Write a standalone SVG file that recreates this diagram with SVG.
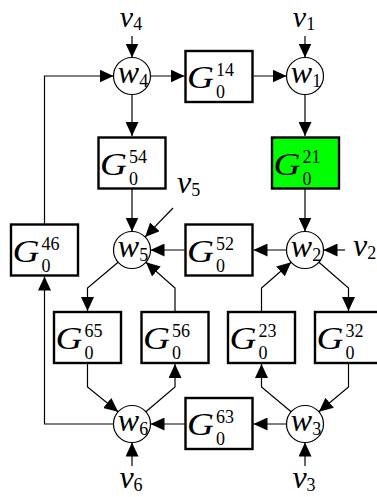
<svg xmlns="http://www.w3.org/2000/svg" width="377" height="497" viewBox="0 0 377 497">
<style>
.box{fill:#fff;stroke:#000;stroke-width:2.4}
.green{fill:#00ff00}
.circ{fill:#fff;stroke:#000;stroke-width:1.2}
.ln{fill:none;stroke:#000;stroke-width:1.2;marker-end:url(#ah)}
text{font-family:'Liberation Serif',serif;fill:#000}
.m{font-style:italic;font-size:32px}
.t{font-style:italic;font-size:30px}
.s{font-style:normal;font-size:18px}
</style>
<defs>
<marker id="ah" markerWidth="14" markerHeight="13" refX="14" refY="6.5" orient="auto" markerUnits="userSpaceOnUse">
<path d="M0,0 L14,6.5 L0,13 Z" fill="#000"/>
</marker>
</defs>
<g id="connectors">
<path class="ln" d="M132,36 L132,57.5"/>
<path class="ln" d="M305,36 L305,57.5"/>
<path class="ln" d="M150.5,76 L184.5,76"/>
<path class="ln" d="M253.5,76 L286.5,76"/>
<path class="ln" d="M305,94.5 L305,136"/>
<path class="ln" d="M132,94.5 L132,136"/>
<path class="ln" d="M132,189 L132,231.5"/>
<path class="ln" d="M305,189 L305,231.5"/>
<path class="ln" d="M173,208 L145.1,236.9"/>
<path class="ln" d="M184.5,250 L150.5,250"/>
<path class="ln" d="M286.5,250 L253.5,250"/>
<path class="ln" d="M345,250 L323.5,250"/>
<path class="ln" d="M318.9,262.2 L348.5,288 L348.5,311"/>
<path class="ln" d="M261.5,311 L261.5,288 L291.1,262.2"/>
<path class="ln" d="M118.1,262.2 L87.5,288 L87.5,311"/>
<path class="ln" d="M175,311 L175,288 L145.9,262.2"/>
<path class="ln" d="M87.5,364 L87.5,387 L118.1,411.8"/>
<path class="ln" d="M145.9,411.8 L175,387 L175,364"/>
<path class="ln" d="M291.1,411.8 L261.5,387 L261.5,364"/>
<path class="ln" d="M348.5,364 L348.5,387 L318.9,411.8"/>
<path class="ln" d="M184.5,424 L150.5,424"/>
<path class="ln" d="M286.5,424 L253.5,424"/>
<path class="ln" d="M305,466 L305,442.5"/>
<path class="ln" d="M132,466 L132,442.5"/>
<path class="ln" d="M113.5,424 L44.5,424 L44.5,276.5"/>
<path class="ln" d="M44.5,223.5 L44.5,76 L113.5,76"/>
</g>
<g id="v4"><text class="t" x="131" y="27" text-anchor="middle">v<tspan class="s" dy="3">4</tspan></text></g>
<g id="v1"><text class="t" x="304" y="27" text-anchor="middle">v<tspan class="s" dy="3">1</tspan></text></g>
<g id="v5"><text class="m" x="177" y="193">v<tspan class="s" dy="3">5</tspan></text></g>
<g id="v2"><text class="m" x="353" y="256">v<tspan class="s" dy="3">2</tspan></text></g>
<g id="v6"><text class="m" x="131" y="488" text-anchor="middle">v<tspan class="s" dy="3">6</tspan></text></g>
<g id="v3"><text class="m" x="304" y="488" text-anchor="middle">v<tspan class="s" dy="3">3</tspan></text></g>
<g id="w4"><circle class="circ" cx="132" cy="76" r="18.5"/><text class="m" x="133" y="83" text-anchor="middle">w<tspan class="s" dy="4">4</tspan></text></g>
<g id="w1"><circle class="circ" cx="305" cy="76" r="18.5"/><text class="m" x="306" y="83" text-anchor="middle">w<tspan class="s" dy="4">1</tspan></text></g>
<g id="w5"><circle class="circ" cx="132" cy="250" r="18.5"/><text class="m" x="133" y="257" text-anchor="middle">w<tspan class="s" dy="4">5</tspan></text></g>
<g id="w2"><circle class="circ" cx="305" cy="250" r="18.5"/><text class="m" x="306" y="257" text-anchor="middle">w<tspan class="s" dy="4">2</tspan></text></g>
<g id="w6"><circle class="circ" cx="132" cy="424" r="18.5"/><text class="m" x="133" y="431" text-anchor="middle">w<tspan class="s" dy="4">6</tspan></text></g>
<g id="w3"><circle class="circ" cx="305" cy="424" r="18.5"/><text class="m" x="306" y="431" text-anchor="middle">w<tspan class="s" dy="4">3</tspan></text></g>
<g id="G14"><rect class="box" x="185.5" y="51" width="67" height="51"/><text class="m" x="187" y="88" textLength="27" lengthAdjust="spacingAndGlyphs">G</text><text class="s" x="216" y="76">14</text><text class="s" x="216" y="98">0</text></g>
<g id="G54"><rect class="box" x="98.5" y="137.5" width="67" height="51"/><text class="m" x="100" y="174.5" textLength="27" lengthAdjust="spacingAndGlyphs">G</text><text class="s" x="129" y="162.5">54</text><text class="s" x="129" y="184.5">0</text></g>
<g id="G21"><rect class="box green" x="272" y="137.5" width="67" height="51"/><text class="m" x="273.5" y="174.5" textLength="27" lengthAdjust="spacingAndGlyphs">G</text><text class="s" x="302.5" y="162.5">21</text><text class="s" x="302.5" y="184.5">0</text></g>
<g id="G46"><rect class="box" x="11" y="224.5" width="67" height="51"/><text class="m" x="12.5" y="261.5" textLength="27" lengthAdjust="spacingAndGlyphs">G</text><text class="s" x="41.5" y="249.5">46</text><text class="s" x="41.5" y="271.5">0</text></g>
<g id="G52"><rect class="box" x="185.5" y="224.5" width="67" height="51"/><text class="m" x="187" y="261.5" textLength="27" lengthAdjust="spacingAndGlyphs">G</text><text class="s" x="216" y="249.5">52</text><text class="s" x="216" y="271.5">0</text></g>
<g id="G65"><rect class="box" x="54" y="312" width="67" height="51"/><text class="m" x="55.5" y="349" textLength="27" lengthAdjust="spacingAndGlyphs">G</text><text class="s" x="84.5" y="337">65</text><text class="s" x="84.5" y="359">0</text></g>
<g id="G56"><rect class="box" x="141.5" y="312" width="67" height="51"/><text class="m" x="143" y="349" textLength="27" lengthAdjust="spacingAndGlyphs">G</text><text class="s" x="172" y="337">56</text><text class="s" x="172" y="359">0</text></g>
<g id="G23"><rect class="box" x="228" y="312" width="67" height="51"/><text class="m" x="229.5" y="349" textLength="27" lengthAdjust="spacingAndGlyphs">G</text><text class="s" x="258.5" y="337">23</text><text class="s" x="258.5" y="359">0</text></g>
<g id="G32"><rect class="box" x="315" y="312" width="67" height="51"/><text class="m" x="316.5" y="349" textLength="27" lengthAdjust="spacingAndGlyphs">G</text><text class="s" x="345.5" y="337">32</text><text class="s" x="345.5" y="359">0</text></g>
<g id="G63"><rect class="box" x="185.5" y="398" width="67" height="51"/><text class="m" x="187" y="435" textLength="27" lengthAdjust="spacingAndGlyphs">G</text><text class="s" x="216" y="423">63</text><text class="s" x="216" y="445">0</text></g>
</svg>
